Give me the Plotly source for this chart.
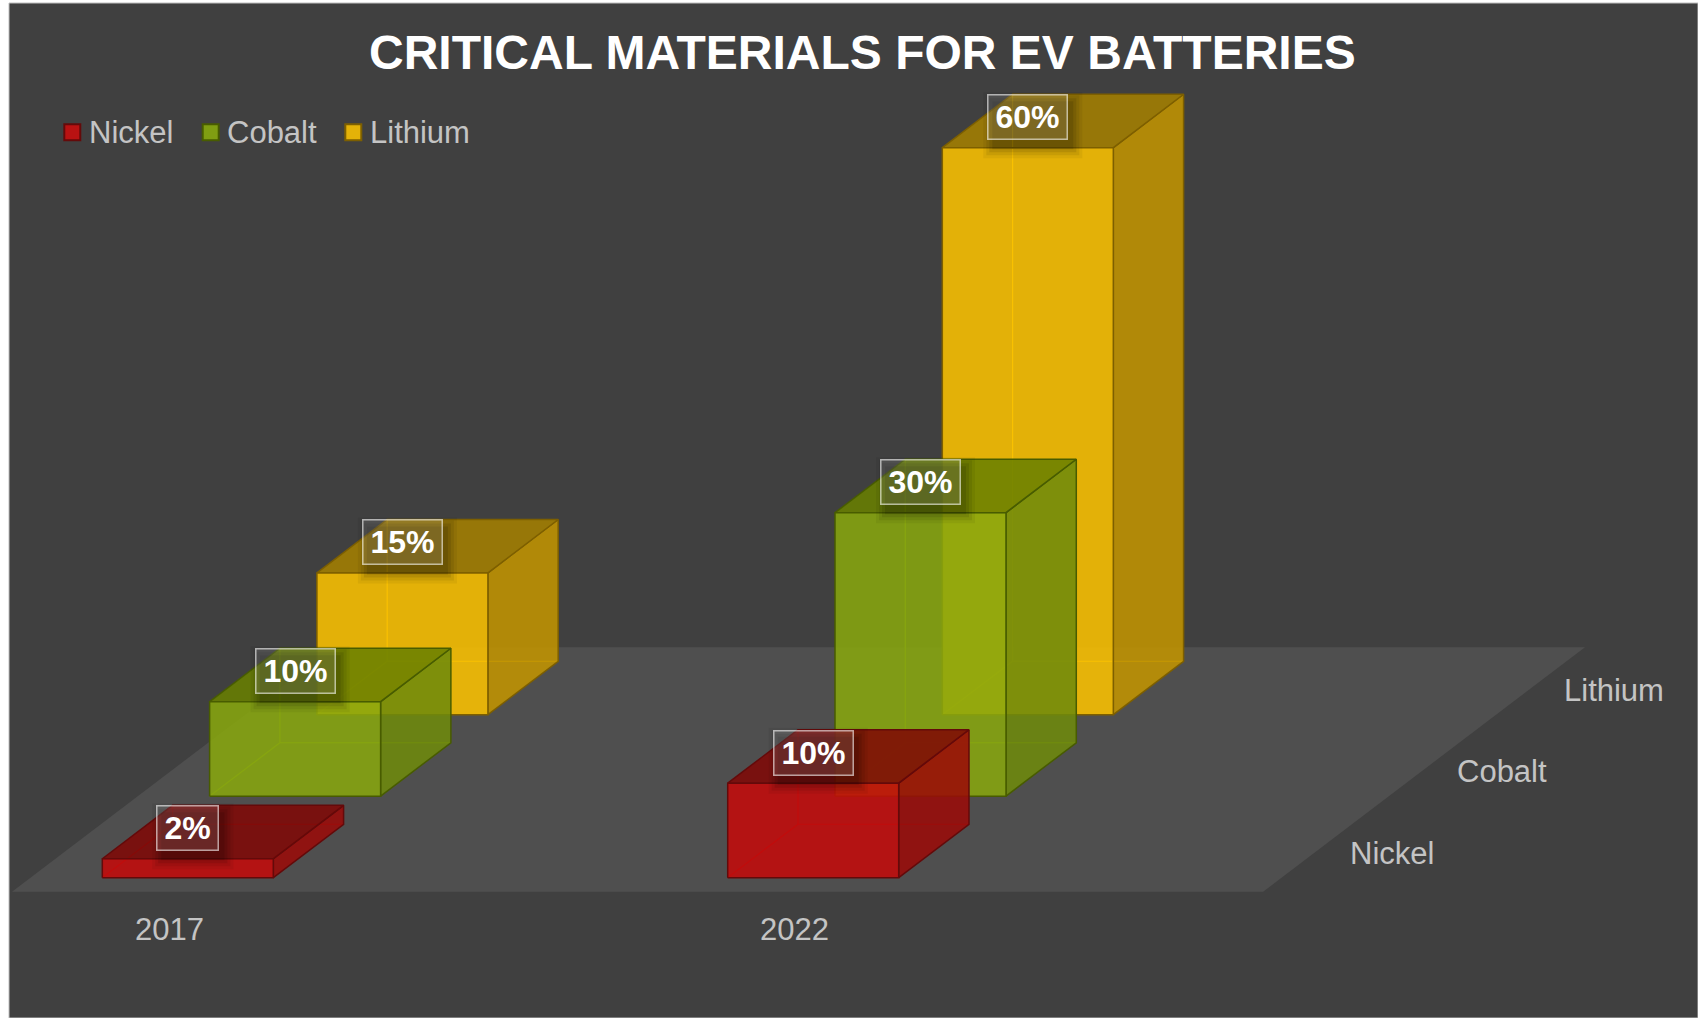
import plotly.graph_objects as go

# ---- data -------------------------------------------------------------
years = ["2017", "2022"]
materials = ["Nickel", "Cobalt", "Lithium"]
nickel = [2, 10]
cobalt = [10, 30]
lithium = [15, 60]
series = [nickel, cobalt, lithium]

# ---- geometry of the oblique 3-D view -----------------------------------
W, H = 1698, 1018
CAT_PX = 625.4          # pixels per category step
PCT_PX = 9.45           # pixels per percentage point
X0_PX = 169.3           # pixel x of the first category on the floor front edge
Y0_PX = 891.7           # pixel y of the floor front edge
ROW_DX = 107.3 / CAT_PX  # one series row of depth, in category units
ROW_DY = 81.5 / PCT_PX   # one series row of depth, in value units
BAR_HALF = 85.5 / CAT_PX
BAR_FRONT, BAR_BACK = 0.1725, 0.8275
FLOOR_X = (-0.2515, 1.749)
ALPHA = 0.87
FONT = "Liberation Sans, Arial, sans-serif"

styles = {
    "Nickel":  dict(front=(195, 10, 10), top=(128, 8, 6), side=(154, 10, 8),
                    edge="rgb(100,10,10)", legend="rgb(185,18,18)"),
    "Cobalt":  dict(front=(135, 166, 14), top=(104, 128, 0), side=(110, 138, 12),
                    edge="rgb(72,92,0)", legend="rgb(128,158,18)"),
    "Lithium": dict(front=(252, 194, 0), top=(164, 127, 0), side=(194, 148, 0),
                    edge="rgb(125,95,0)", legend="rgb(228,178,8)"),
}


def rgba(c, a=ALPHA):
    return f"rgba({c[0]},{c[1]},{c[2]},{a})"


def proj(c, depth, v):
    """Category position, depth (in rows) and value -> axis coordinates."""
    return c + depth * ROW_DX, v + depth * ROW_DY


def poly(pts):
    xs, ys = zip(*[proj(*p) for p in pts])
    return list(xs) + [xs[0]], list(ys) + [ys[0]]


def px_to_dx(p):
    return p / CAT_PX


def px_to_dy(p):
    return p / PCT_PX


fig = go.Figure()

# floor
fx, fy = poly([(FLOOR_X[0], 0, 0), (FLOOR_X[1], 0, 0),
               (FLOOR_X[1], 3, 0), (FLOOR_X[0], 3, 0)])
fig.add_trace(go.Scatter(x=fx, y=fy, fill="toself", fillcolor="#4f4f4f",
                         mode="lines", line=dict(width=0), hoverinfo="skip",
                         showlegend=False))

# bars, back row first
for r in reversed(range(len(materials))):
    name = materials[r]
    st = styles[name]
    for i, v in enumerate(series[r]):
        x0, x1 = i - BAR_HALF, i + BAR_HALF
        z0, z1 = r + BAR_FRONT, r + BAR_BACK
        # edges hidden behind the translucent faces
        for a, b in [((x0, z1, 0), (x0, z1, v)),
                     ((x0, z0, 0), (x0, z1, 0)),
                     ((x0, z1, 0), (x1, z1, 0))]:
            (ax, ay), (bx, by) = proj(*a), proj(*b)
            fig.add_trace(go.Scatter(x=[ax, bx], y=[ay, by], mode="lines",
                                     line=dict(color=rgba(st["front"], 0.9), width=1.2),
                                     hoverinfo="skip", showlegend=False))
        faces = [
            ("side", [(x1, z0, 0), (x1, z1, 0), (x1, z1, v), (x1, z0, v)]),
            ("top", [(x0, z0, v), (x1, z0, v), (x1, z1, v), (x0, z1, v)]),
            ("front", [(x0, z0, 0), (x1, z0, 0), (x1, z0, v), (x0, z0, v)]),
        ]
        for key, pts in faces:
            xs, ys = poly(pts)
            fig.add_trace(go.Scatter(
                x=xs, y=ys, fill="toself", fillcolor=rgba(st[key]),
                mode="lines", line=dict(color=st["edge"], width=1.5),
                name=name, showlegend=False,
                hovertemplate=f"{name} {years[i]}: {v}%<extra></extra>"))

shapes = []
annotations = []

# chart area
shapes.append(dict(type="rect", xref="paper", yref="paper",
                   x0=9 / W, x1=1.0, y0=0, y1=1 - 3 / H,
                   fillcolor="#404040", line=dict(color="#bfbfbf", width=1),
                   layer="below"))

# legend: swatch + name, laid out left to right
LEG_Y = 132.3
LEG_SW = 18
legend_left = [63.3, 201.7, 344.3]
for name, lx in zip(materials, legend_left):
    st = styles[name]
    shapes.append(dict(type="rect", xref="paper", yref="paper",
                       x0=(lx + 1) / W, x1=(lx + LEG_SW - 1) / W,
                       y0=1 - (LEG_Y + LEG_SW / 2 - 1) / H,
                       y1=1 - (LEG_Y - LEG_SW / 2 + 1) / H,
                       fillcolor=st["legend"], line=dict(color=st["edge"], width=2)))
    annotations.append(dict(
        x=(lx + LEG_SW + 5.3) / W, y=1 - LEG_Y / H, xref="paper", yref="paper",
        showarrow=False, text=name, xanchor="left", yanchor="middle",
        font=dict(family=FONT, size=31, color="#c4c4c4")))

# value labels with a soft shadow
FONT_LBL = 32
for r, name in enumerate(materials):
    for i, v in enumerate(series[r]):
        cx, cy = proj(i, r + BAR_FRONT, v)
        txt = f"{v}%"
        tw = FONT_LBL * (0.556 * (len(txt) - 1) + 0.889) + 17
        th = 46
        cyl = cy + px_to_dy(30.5)
        for grow, alpha in [(9, 0.05), (6, 0.07), (3, 0.09), (0, 0.1)]:
            shapes.append(dict(
                type="rect", xref="x", yref="y", layer="above",
                x0=cx - px_to_dx(tw / 2 + grow - 5), x1=cx + px_to_dx(tw / 2 + grow + 5),
                y0=cyl - px_to_dy(th / 2 + grow + 9), y1=cyl + px_to_dy(th / 2 + grow - 7),
                fillcolor=f"rgba(0,0,0,{alpha})", line=dict(width=0)))
        annotations.append(dict(
            x=cx, y=cy, xref="x", yref="y", yshift=30.5, showarrow=False,
            text=f"<b>{txt}</b>", width=tw - 3, height=th - 3, borderpad=0,
            font=dict(family=FONT, size=FONT_LBL, color="white"),
            bgcolor="rgba(255,255,255,0.12)", bordercolor="rgba(255,255,255,0.6)",
            borderwidth=1.5, xanchor="center", yanchor="middle"))

# category labels along the front edge
for i, yr in enumerate(years):
    annotations.append(dict(
        x=i, y=0, xref="x", yref="y", yshift=-38, showarrow=False, text=yr,
        font=dict(family=FONT, size=31, color="#c4c4c4"),
        xanchor="center", yanchor="middle"))

# series labels along the depth axis
for r, name in enumerate(materials):
    x, y = proj(FLOOR_X[1], r + 0.5, 0)
    annotations.append(dict(
        x=x, y=y, xref="x", yref="y", xshift=31, yshift=-2.5, showarrow=False,
        text=name, font=dict(family=FONT, size=31, color="#c4c4c4"),
        xanchor="left", yanchor="middle"))

# title
annotations.append(dict(
    x=862 / W, y=1 - 52 / H, xref="paper", yref="paper", showarrow=False,
    text="<b>CRITICAL MATERIALS FOR EV BATTERIES</b>",
    font=dict(family=FONT, size=48, color="white"),
    xanchor="center", yanchor="middle"))

fig.update_layout(
    width=W, height=H, margin=dict(l=0, r=0, t=0, b=0),
    paper_bgcolor="white", plot_bgcolor="rgba(0,0,0,0)",
    xaxis=dict(range=[(0 - X0_PX) / CAT_PX, (W - X0_PX) / CAT_PX], visible=False,
               fixedrange=True),
    yaxis=dict(range=[(Y0_PX - H) / PCT_PX, Y0_PX / PCT_PX], visible=False,
               fixedrange=True),
    showlegend=False,
    shapes=shapes, annotations=annotations,
)

fig.write_html("out.html")
